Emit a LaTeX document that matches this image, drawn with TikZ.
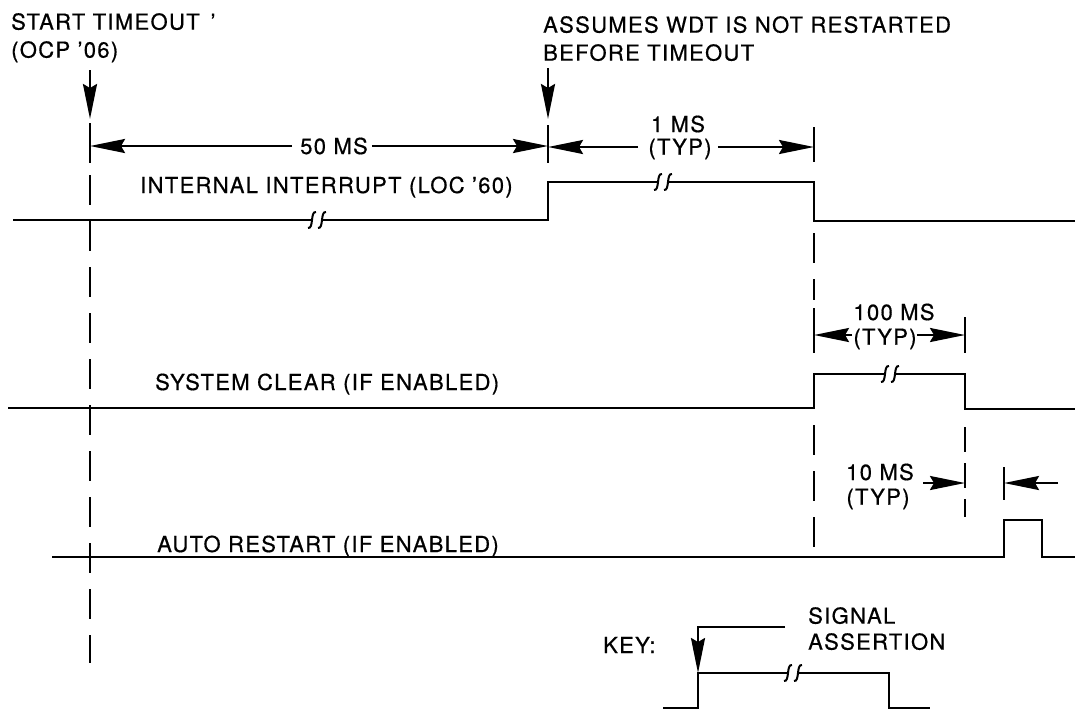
\documentclass[tikz,border=0pt]{standalone}
\usepackage{fontspec}
\setmainfont{TeX Gyre Heros}[FakeBold=0.6, LetterSpace=6]
\usetikzlibrary{arrows.meta}
\begin{document}
\begin{tikzpicture}[x=1pt,y=-1pt,
  sig/.style={line width=2.6pt, line join=miter},
  dimln/.style={line width=2.3pt},
  arr/.style={dimln,-{Stealth[length=35pt,width=14pt,inset=4pt]}},
  dsh/.style={line width=2.3pt, dash pattern=on 30pt off 16pt},
  lbl/.style={font=\fontsize{22}{28}\selectfont, inner sep=0pt},
  hdr/.style={lbl, anchor=north west, align=left},
  brk/.pic={\draw[line width=2pt] (-9,8) .. controls (-3,9) and (-7,-9) .. (-1,-8);
            \draw[line width=2pt] (1,8) .. controls (7,9) and (3,-9) .. (9,-8);}
]
\useasboundingbox (0,0) rectangle (1075,713);

% ---------- header texts ----------
\node[hdr] (hdrA) at (11,13) {START TIMEOUT\hspace{0.5em}’\\(OCP ’06)};
\node[hdr] (hdrB) at (543,16) {ASSUMES WDT IS NOT RESTARTED\\BEFORE TIMEOUT};

% ---------- event arrows ----------
\coordinate (aTop) at (90,70);
\coordinate (aTip) at (90,119);
\coordinate (bTop) at (548,68);
\coordinate (bTip) at (548,119);
\draw[arr] (aTop) -- (aTip);
\draw[arr] (bTop) -- (bTip);

% ---------- ticks ----------
\draw[dimln] (90,123) -- (90,163);
\draw[dimln] (548,125) -- (548,163);
\draw[dimln] (814,127) -- (814,162);

% ---------- 50 MS ----------
\node[lbl] (l50) at (334,146) {50 MS};
\coordinate (d50L) at (90,146);
\coordinate (d50R) at (548,146);
\draw[arr] ([xshift=-8pt]l50.west) -- (d50L);
\draw[arr] ([xshift=4pt]l50.east) -- (d50R);

% ---------- 1 MS (TYP) ----------
\node[lbl] (l1a) at (678,124) {1 MS};
\node[lbl] (l1b) at (680,149) {(TYP)};
\coordinate (d1L) at (548,147);
\coordinate (d1R) at (814,147);
\draw[arr] ([xshift=-10pt]l1b.west |- d1L) -- (d1L);
\draw[arr] ([xshift=6pt]l1b.east |- d1R) -- (d1R);

% ---------- INTERNAL INTERRUPT ----------
\node[lbl,anchor=base west] (nII) at (140,193) {INTERNAL INTERRUPT (LOC ’60)};
\draw[sig] (13,220) -- (312,220);
\pic at (317,220) {brk};
\draw[sig] (322,220) -- (548,220) -- (548,182) -- (658,182);
\pic at (663,182) {brk};
\draw[sig] (668,182) -- (814,182) -- (814,221) -- (1075,221);

% ---------- dashed reference lines ----------
\draw[dsh] (90,175) -- (90,663);
\draw[dsh] (814,233) -- (814,300);
\draw[dimln] (814,308) -- (814,353);
\draw[dsh] (814,425) -- (814,547);
\draw[dimln] (965,317) -- (965,353);
\draw[dsh,dash pattern=on 25pt off 11pt] (965,427) -- (965,517);

% ---------- 100 MS (TYP) ----------
\node[lbl] (l100a) at (894,312) {100 MS};
\node[lbl] (l100b) at (885,339) {(TYP)};
\coordinate (d100L) at (814,335);
\coordinate (d100R) at (965,335);
\draw[arr] ([xshift=-1pt]l100b.west |- d100L) -- (d100L);
\draw[arr] ([xshift=0pt]l100b.east |- d100R) -- (d100R);

% ---------- SYSTEM CLEAR ----------
\node[lbl,anchor=base west] (nSC) at (155,390) {SYSTEM CLEAR (IF ENABLED)};
\draw[sig] (8,408) -- (814,408) -- (814,374) -- (885,374);
\pic at (890,374) {brk};
\draw[sig] (895,374) -- (965,374) -- (965,409) -- (1075,409);

% ---------- 10 MS (TYP) ----------
\node[lbl] (l10a) at (880,472) {10 MS};
\node[lbl] (l10b) at (878,499) {(TYP)};
\coordinate (d10a) at (923,483);
\coordinate (d10b) at (965,483);
\coordinate (d10c) at (1058,483);
\coordinate (d10d) at (1004,483);
\draw[arr] (d10a) -- (d10b);
\draw[dimln] (1004,467) -- (1004,500);
\draw[arr] (d10c) -- (d10d);

% ---------- AUTO RESTART ----------
\node[lbl,anchor=base west] (nAR) at (157,552) {AUTO RESTART (IF ENABLED)};
\draw[sig] (52,557) -- (1004,557) -- (1004,520) -- (1042,520) -- (1042,557) -- (1075,557);

% ---------- KEY ----------
\node[lbl,anchor=base west] (nKey) at (603,653) {KEY:};
\node[lbl,anchor=north west,align=left,font=\fontsize{22}{26}\selectfont] (nSA) at (808,607) {SIGNAL\\ASSERTION};
\coordinate (kStart) at (785,627);
\coordinate (kCorner) at (698,627);
\coordinate (kTip) at (698,673);
\draw[arr] (kStart) -- (kCorner) -- (kTip);
\draw[sig] (663,708) -- (698,708) -- (698,673) -- (788,673);
\pic at (793,673) {brk};
\draw[sig] (798,673) -- (889,673) -- (889,708) -- (930,708);
\end{tikzpicture}
\end{document}
